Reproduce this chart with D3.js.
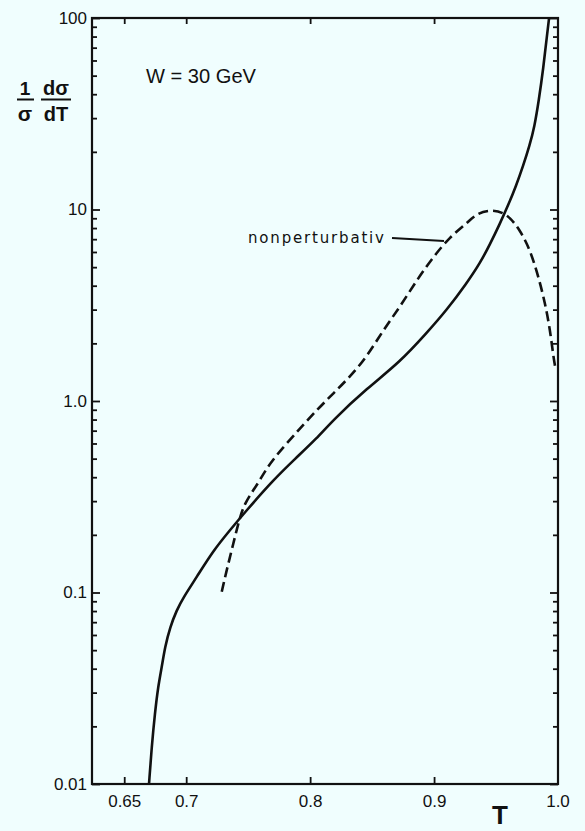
<!DOCTYPE html>
<html>
<head>
<meta charset="utf-8">
<script src="https://cdn.jsdelivr.net/npm/d3@7/dist/d3.min.js"></script>
<style>
  html, body { margin: 0; padding: 0; background: #f0fefe; }
  svg { display: block; }
  text { font-family: "Liberation Sans", Arial, sans-serif; fill: #111; }
</style>
</head>
<body>
<svg id="chart" width="585" height="831"></svg>
<script>
// Thrust distribution at W = 30 GeV: perturbative curve (solid) and nonperturbative curve (dashed)
const solidT = [0.670, 0.6722, 0.6748, 0.6773, 0.6803, 0.6829, 0.6870, 0.6924, 0.6974, 0.7085,
                0.7217, 0.7354, 0.7475, 0.7701, 0.788, 0.8054, 0.8185, 0.8457, 0.8726, 0.8941,
                0.9103, 0.9264, 0.9372, 0.9452, 0.9530, 0.9600, 0.9660, 0.9720, 0.9770, 0.9810,
                0.9845, 0.9882, 0.9910, 0.9928];
const solidV = [0.01, 0.0157, 0.0235, 0.0321, 0.0408, 0.0519, 0.066, 0.081, 0.0935, 0.1205,
                0.165, 0.212, 0.263, 0.386, 0.50, 0.638, 0.796, 1.162, 1.60, 2.27,
                2.99, 4.13, 5.26, 6.6, 8.4, 10.6, 13.2, 17.0, 21.5, 27.0,
                37.0, 55.0, 80.0, 100];

const dashT = [0.7287, 0.7327, 0.7381, 0.7434, 0.7475, 0.7542, 0.7596, 0.7677, 0.7919, 0.8054,
               0.8188, 0.8322, 0.8457, 0.8591, 0.8726, 0.8861, 0.8995, 0.9129, 0.9264, 0.9345,
               0.9466, 0.9587, 0.9694, 0.9775, 0.9842, 0.9896, 0.9936, 0.9963, 0.9977];
const dashV = [0.101, 0.131, 0.181, 0.249, 0.293, 0.343, 0.386, 0.48, 0.720, 0.897,
               1.097, 1.34, 1.70, 2.35, 3.11, 4.28, 5.67, 7.21, 8.47, 9.55,
               10.0, 9.55, 7.82, 6.15, 4.46, 3.24, 2.35, 1.70, 1.51];

const xTicks = [0.65, 0.7, 0.8, 0.9, 1.0];
const xTickLabels = ["0.65", "0.7", "0.8", "0.9", "1.0"];
const yTicks = [0.01, 0.1, 1, 10, 100];
const yTickLabels = ["0.01", "0.1", "1.0", "10", "100"];

const svg = d3.select("#chart");
const L = 92, R = 558, T0 = 18, B = 784;

const x = d3.scaleLinear().domain([0.624, 1.0]).range([L, R]);
const y = d3.scaleLog().domain([0.01, 100]).range([B, T0]);

// minor ticks 2..9 in each decade
const minorTicks = [];
for (let e = -2; e < 2; e++) for (let m = 2; m <= 9; m++) minorTicks.push(m * Math.pow(10, e));

function styleAxis(g) {
  g.select(".domain").remove();
  g.selectAll(".tick line").attr("stroke", "#111").attr("stroke-width", 1.8);
  g.selectAll(".tick text").style("font-size", "17px").attr("fill", "#111");
}

// bottom axis, ticks pointing inward
svg.append("g").attr("transform", `translate(0,${B})`)
  .call(d3.axisBottom(x).tickValues(xTicks.slice(0, 4)).tickSizeInner(-7).tickSizeOuter(0)
        .tickPadding(11).tickFormat((d, i) => xTickLabels[i]))
  .call(styleAxis);
// label for 1.0 sits at the right edge
svg.append("text").attr("x", x(1.0)).attr("y", B + 11).attr("dy", "0.71em")
  .attr("text-anchor", "middle").style("font-size", "17px").text(xTickLabels[4]);

// top axis, ticks only
svg.append("g").attr("transform", `translate(0,${T0})`)
  .call(d3.axisTop(x).tickValues(xTicks.slice(0, 4)).tickSizeInner(-6).tickSizeOuter(0).tickFormat(""))
  .call(styleAxis);

// left axis with decade labels
svg.append("g").attr("transform", `translate(${L},0)`)
  .call(d3.axisLeft(y).tickValues(yTicks).tickSizeInner(-8).tickSizeOuter(0)
        .tickPadding(5).tickFormat((d, i) => yTickLabels[i]))
  .call(styleAxis);
svg.append("g").attr("transform", `translate(${L},0)`)
  .call(d3.axisLeft(y).tickValues(minorTicks).tickSizeInner(-5).tickSizeOuter(0).tickFormat(""))
  .call(styleAxis);

// right axis, ticks only
svg.append("g").attr("transform", `translate(${R},0)`)
  .call(d3.axisRight(y).tickValues(yTicks).tickSizeInner(-8).tickSizeOuter(0).tickFormat(""))
  .call(styleAxis);
svg.append("g").attr("transform", `translate(${R},0)`)
  .call(d3.axisRight(y).tickValues(minorTicks).tickSizeInner(-5).tickSizeOuter(0).tickFormat(""))
  .call(styleAxis);

// frame
svg.append("rect").attr("x", L).attr("y", T0).attr("width", R - L).attr("height", B - T0)
  .attr("fill", "none").attr("stroke", "#111").attr("stroke-width", 2.2);

const line = d3.line().x(d => x(d[0])).y(d => y(d[1])).curve(d3.curveBasis);

svg.append("path")
  .datum(solidT.map((t, i) => [t, solidV[i]]))
  .attr("d", line).attr("fill", "none").attr("stroke", "#111").attr("stroke-width", 2.6);

svg.append("path")
  .datum(dashT.map((t, i) => [t, dashV[i]]))
  .attr("d", line).attr("fill", "none").attr("stroke", "#111").attr("stroke-width", 2.6)
  .attr("stroke-dasharray", "10,5");

// annotation
svg.append("text").attr("x", 248).attr("y", 243)
  .attr("textLength", 136).attr("lengthAdjust", "spacing")
  .style("font-family", "'DejaVu Sans', sans-serif").style("font-size", "15px")
  .text("nonperturbativ");
svg.append("line").attr("x1", 392).attr("y1", 238).attr("x2", 444).attr("y2", 241)
  .attr("stroke", "#111").attr("stroke-width", 1.8);

svg.append("text").attr("x", 146).attr("y", 83)
  .attr("textLength", 110).attr("lengthAdjust", "spacingAndGlyphs")
  .style("font-size", "20px").text("W = 30 GeV");

// x-axis title
svg.append("text").attr("x", 500).attr("y", 824).attr("text-anchor", "middle")
  .style("font-size", "26px").style("font-weight", "bold").text("T");

// y-axis title: (1/σ) dσ/dT
const yl = svg.append("g");
yl.append("text").attr("x", 25).attr("y", 95).attr("text-anchor", "middle")
  .style("font-size", "19px").style("font-weight", "bold").text("1");
yl.append("line").attr("x1", 17).attr("x2", 34).attr("y1", 99.5).attr("y2", 99.5)
  .attr("stroke", "#111").attr("stroke-width", 2);
yl.append("text").attr("x", 25).attr("y", 121).attr("text-anchor", "middle")
  .style("font-size", "21px").style("font-weight", "bold").text("σ");
yl.append("text").attr("x", 56).attr("y", 95).attr("text-anchor", "middle")
  .style("font-size", "20px").style("font-weight", "bold").text("dσ");
yl.append("line").attr("x1", 41).attr("x2", 71).attr("y1", 99.5).attr("y2", 99.5)
  .attr("stroke", "#111").attr("stroke-width", 2);
yl.append("text").attr("x", 56).attr("y", 121).attr("text-anchor", "middle")
  .style("font-size", "20px").style("font-weight", "bold").text("dT");
</script>
</body>
</html>
